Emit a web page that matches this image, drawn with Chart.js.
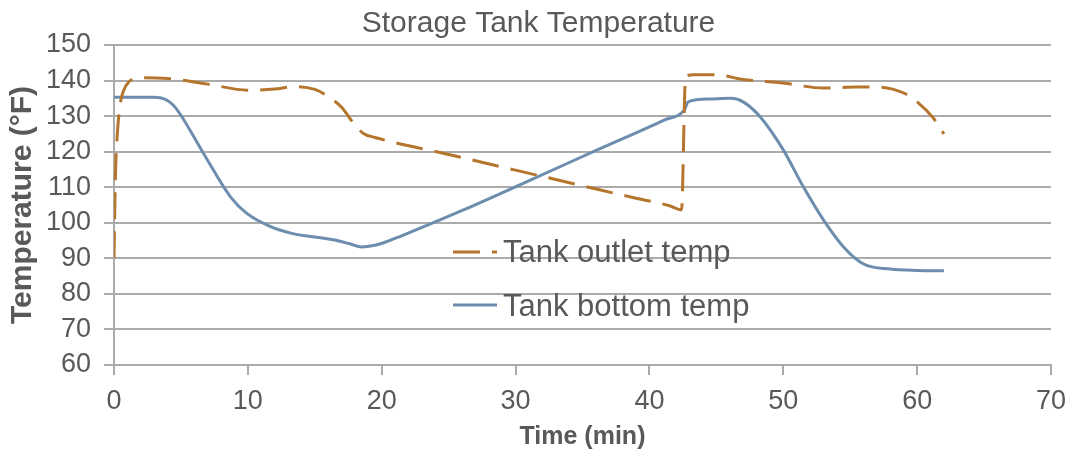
<!DOCTYPE html>
<html>
<head>
<meta charset="utf-8">
<script src="https://cdn.jsdelivr.net/npm/chart.js@4.4.1/dist/chart.umd.min.js"></script>
<style>
  html, body { margin: 0; padding: 0; background: #ffffff; }
  #wrap { width: 1077px; height: 453px; }
</style>
</head>
<body>
<div id="wrap"><canvas id="c" width="1077" height="453"></canvas></div>
<script>
// ---- Data ----
const chartTitle = "Storage Tank Temperature";
const xAxisTitle = "Time (min)";
const yAxisTitle = "Temperature (\u00B0F)";
const seriesNames = ["Tank outlet temp", "Tank bottom temp"];

const outletTime = [0, 0.1, 0.25, 0.45, 0.7, 1.1, 2, 4, 7, 10, 12, 13.5, 15, 16, 17, 18, 18.6, 19.5, 25, 30, 35, 39, 41.5, 42.4, 42.7, 43.3, 45, 47, 50, 53, 55.5, 57, 59, 60, 61.2, 62];
const outletTemp = [90, 112, 125, 133, 137, 139.6, 140.8, 140.6, 139, 137.3, 137.6, 138.3, 137.5, 135.5, 132.5, 127.5, 125.2, 124, 119.2, 114.8, 110.4, 106.9, 104.8, 103.6, 141.2, 141.6, 141.6, 140.3, 139.3, 137.9, 138.2, 138.2, 136.5, 134, 129.5, 125];

const bottomTime = [0, 3.0, 3.8, 4.4, 4.9, 6.8, 8.7, 9.9, 11.7, 13.2, 16.4, 17.6, 18.5, 19.4, 20.3, 21.4, 26.1, 31.1, 36.1, 41.1, 42.6, 42.9, 44.5, 46.1, 47.0, 48.3, 50.0, 51.5, 53.0, 54.5, 56.0, 58.0, 60, 62];
const bottomTemp = [135.3, 135.3, 134.8, 133.2, 130.8, 118.8, 107.3, 102.7, 98.9, 97.1, 95.2, 94.1, 93.2, 93.6, 94.6, 96.2, 103.6, 112, 120.5, 128.9, 131.7, 134, 134.8, 135, 134, 129.7, 120.5, 110.1, 100.8, 93.2, 88.4, 87, 86.6, 86.5];

const xTickMin = 0, xTickMax = 70, xTickStep = 10;
const yTickMin = 60, yTickMax = 150, yTickStep = 10;

// ---- Styles ----
const FONT = "'Liberation Sans', Arial, sans-serif";
const TEXT = "#595959";
const GRID = "#ababab";
const BROWN = "#b5752c";
const BLUE = "#6c8dae";
const DASH = [27, 12];

function toXY(xs, ys) { return xs.map((x, i) => ({ x: x, y: ys[i] })); }

// centre the title over the full canvas width
const titleCenterPlugin = {
  id: 'titleCenter',
  afterLayout(chart) {
    const tb = chart.titleBlock;
    if (tb) {
      tb.left = 0;
      tb.right = chart.width;
      tb.width = chart.width;
    }
  }
};

const legendPlugin = {
  id: 'insideLegend',
  afterDraw(chart) {
    const ctx = chart.ctx;
    const rows = [
      { ds: chart.data.datasets[0], y: 252, ty: 253.5 },
      { ds: chart.data.datasets[1], y: 305, ty: 307.5 }
    ];
    ctx.save();
    rows.forEach(r => {
      ctx.beginPath();
      ctx.lineWidth = 3;
      ctx.strokeStyle = r.ds.borderColor;
      ctx.setLineDash(r.ds.borderDash || []);
      ctx.lineCap = 'butt';
      ctx.moveTo(453, r.y);
      ctx.lineTo(497, r.y);
      ctx.stroke();
      ctx.setLineDash([]);
      ctx.fillStyle = TEXT;
      ctx.font = "31px " + FONT;
      ctx.textBaseline = 'middle';
      ctx.textAlign = 'left';
      ctx.fillText(r.ds.label, 503, r.ty);
    });
    ctx.restore();
  }
};

new Chart(document.getElementById('c'), {
  type: 'line',
  data: {
    datasets: [
      {
        label: seriesNames[0],
        data: toXY(outletTime, outletTemp),
        borderColor: BROWN,
        backgroundColor: BROWN,
        borderWidth: 3,
        borderDash: DASH,
        borderCapStyle: 'butt',
        pointRadius: 0,
        cubicInterpolationMode: 'monotone',
        fill: false
      },
      {
        label: seriesNames[1],
        data: toXY(bottomTime, bottomTemp),
        borderColor: BLUE,
        backgroundColor: BLUE,
        borderWidth: 3,
        pointRadius: 0,
        cubicInterpolationMode: 'monotone',
        fill: false
      }
    ]
  },
  options: {
    responsive: false,
    animation: false,
    layout: { padding: { left: 0, right: 26, top: 0, bottom: 0 } },
    plugins: {
      legend: { display: false },
      tooltip: { enabled: false },
      title: {
        display: true,
        text: chartTitle,
        color: TEXT,
        font: { family: FONT, size: 30, weight: 'normal' },
        padding: { top: 6, bottom: 3 }
      }
    },
    scales: {
      x: {
        type: 'linear',
        min: xTickMin, max: xTickMax,
        ticks: {
          stepSize: xTickStep,
          color: TEXT,
          font: { family: FONT, size: 27 },
          padding: 10,
          maxRotation: 0
        },
        grid: {
          drawOnChartArea: false,
          drawTicks: true,
          tickLength: 10,
          color: GRID,
          lineWidth: 2
        },
        border: { display: true, color: GRID, width: 2 },
        title: {
          display: true,
          text: xAxisTitle,
          color: TEXT,
          font: { family: FONT, size: 25, weight: 'bold' },
          padding: { top: 0, bottom: 1 }
        },
        afterFit(scale) { scale.height = 88; }
      },
      y: {
        type: 'linear',
        min: yTickMin, max: yTickMax,
        ticks: {
          stepSize: yTickStep,
          color: TEXT,
          font: { family: FONT, size: 27 },
          padding: 13
        },
        grid: {
          drawOnChartArea: true,
          drawTicks: true,
          tickLength: 10,
          color: GRID,
          lineWidth: 2
        },
        border: { display: true, color: GRID, width: 2 },
        title: {
          display: true,
          text: yAxisTitle,
          color: TEXT,
          font: { family: FONT, size: 30, weight: 'bold' },
          padding: { top: 4.5, bottom: 0 }
        },
        afterFit(scale) { scale.width = 114; }
      }
    }
  },
  plugins: [titleCenterPlugin, legendPlugin]
});
</script>
</body>
</html>
